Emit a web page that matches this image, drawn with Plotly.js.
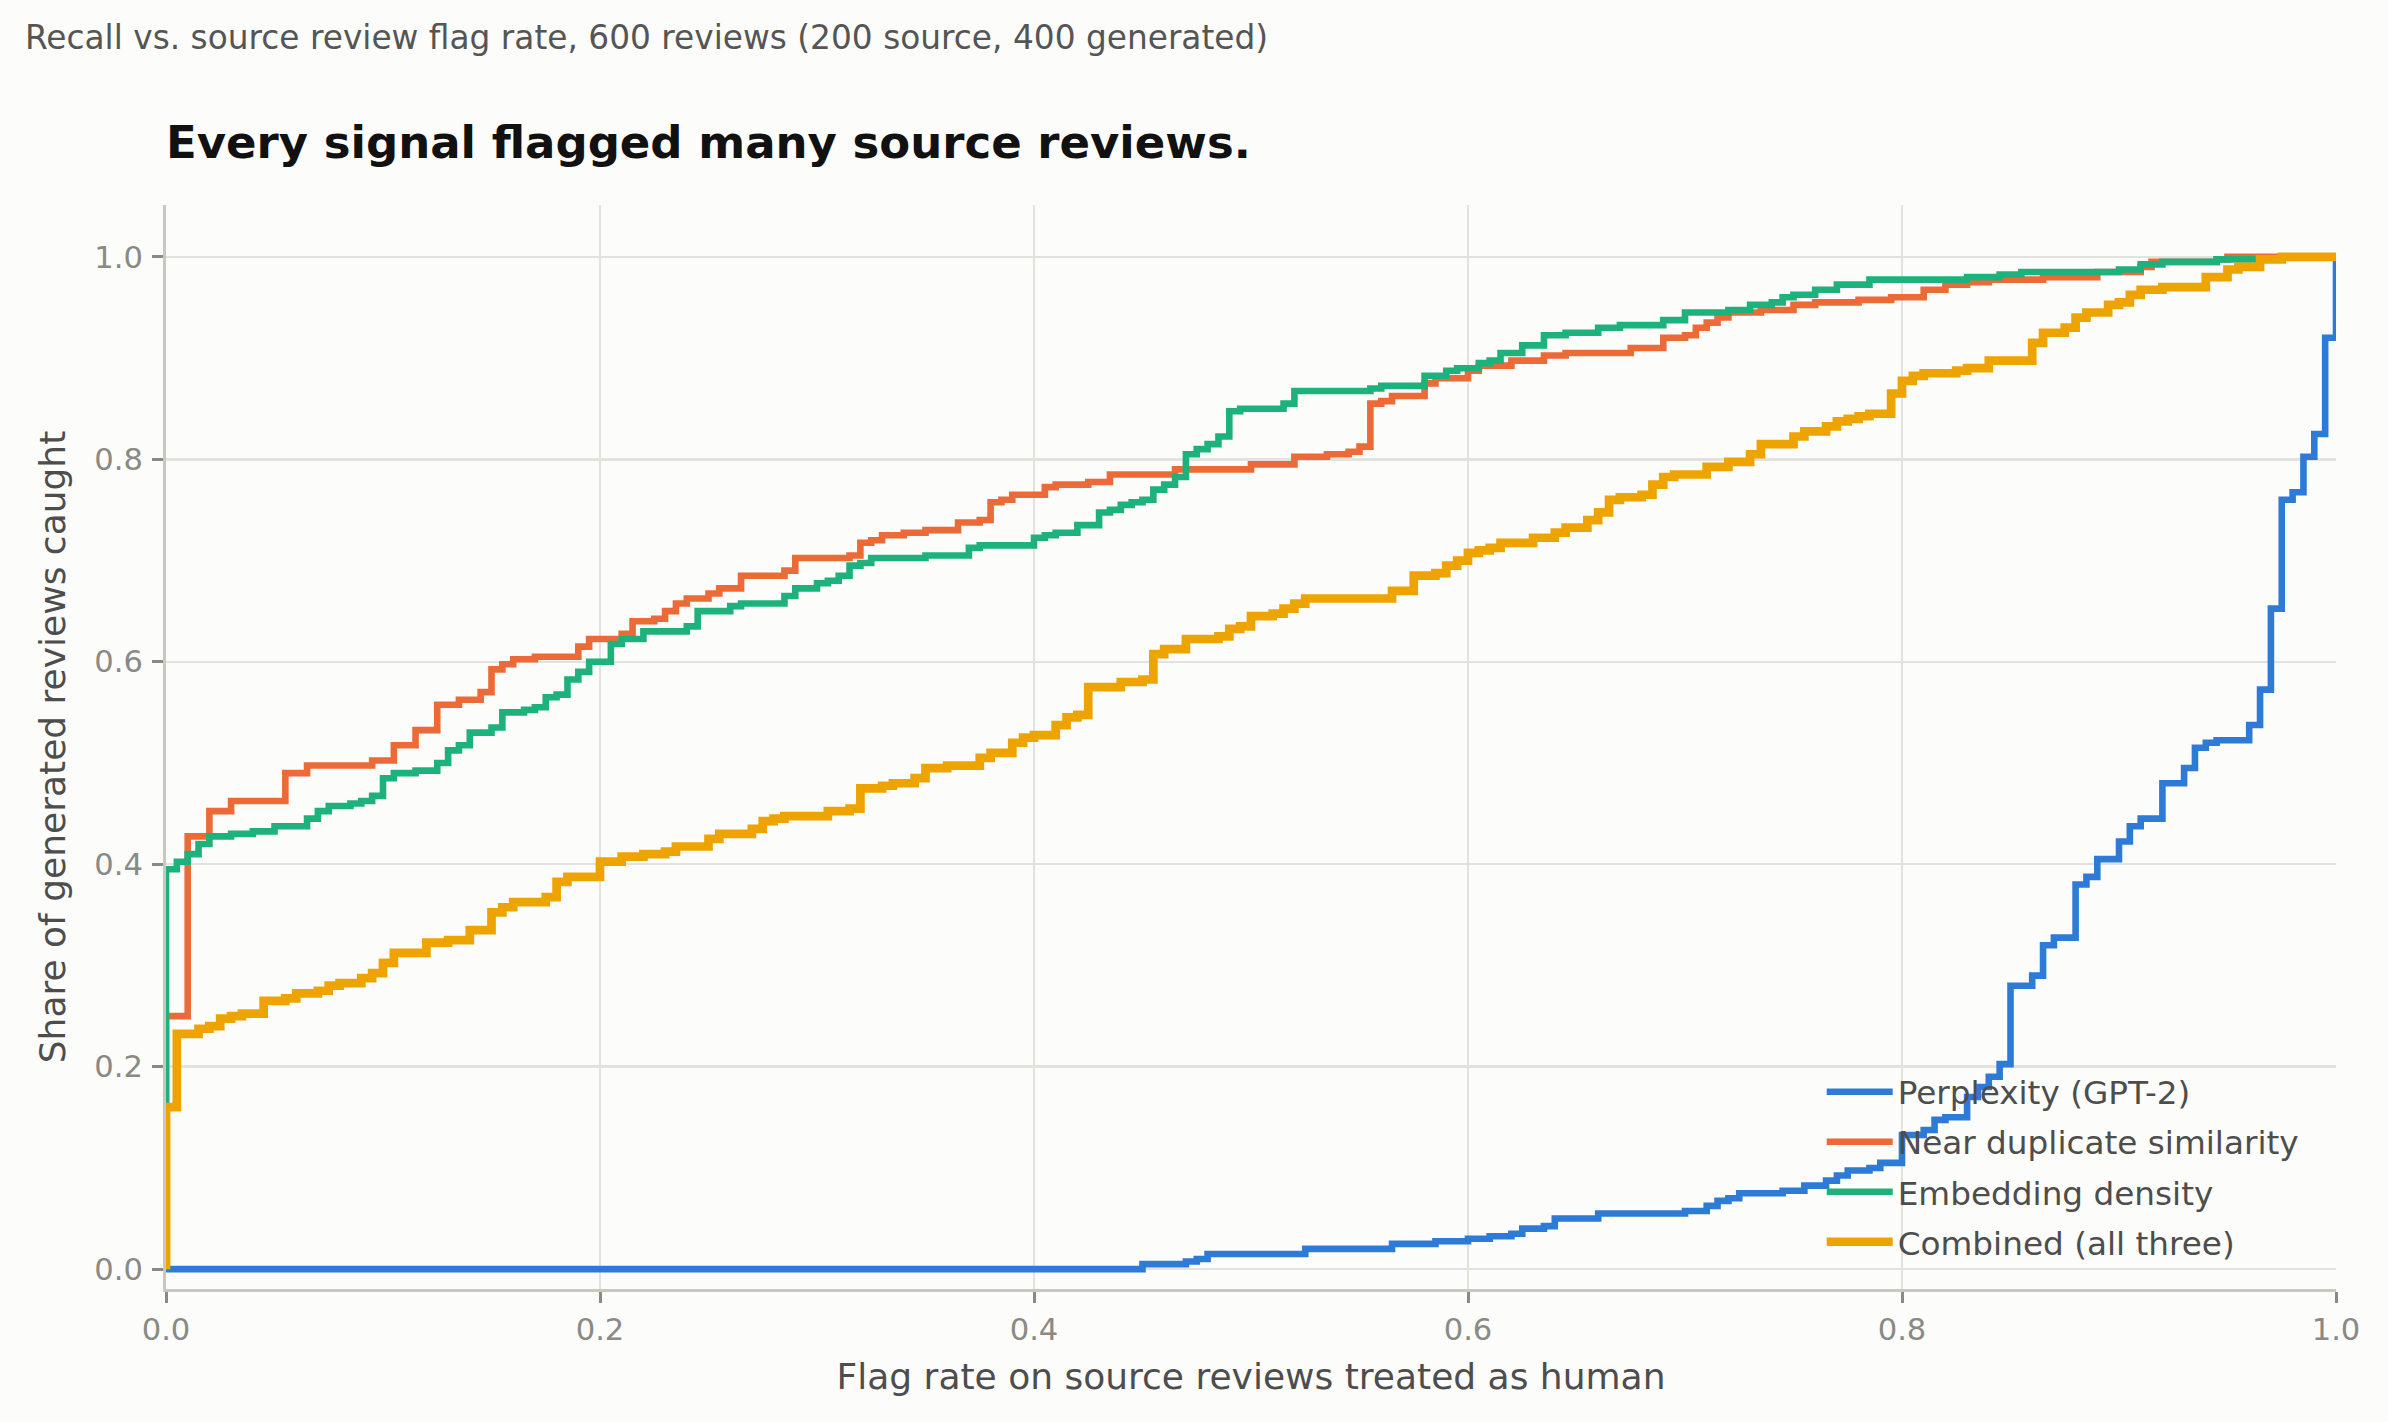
<!DOCTYPE html>
<html>
<head>
<meta charset="utf-8">
<script src="https://cdn.plot.ly/plotly-3.0.1.min.js"></script>
<style>html,body{margin:0;padding:0;background:#fcfcfa;}</style>
</head>
<body>
<div id="chart" style="width:2388px;height:1422px;"></div>
<script>
// ---- data ----
const seriesNames = ["Perplexity (GPT-2)", "Near duplicate similarity", "Embedding density", "Combined (all three)"];
const seriesColors = ["#2d7ad7", "#ec6a38", "#1db27c", "#eda300"];

const perplexityX = [0,0.45,0.47,0.475,0.48,0.525,0.565,0.585,0.6,0.61,0.62,0.625,0.635,0.64,0.66,0.70,0.71,0.715,0.72,0.725,0.745,0.755,0.765,0.77,0.775,0.785,0.79,0.80,0.81,0.815,0.82,0.83,0.835,0.84,0.845,0.85,0.86,0.865,0.87,0.88,0.885,0.89,0.90,0.905,0.91,0.92,0.93,0.935,0.94,0.945,0.96,0.965,0.97,0.975,0.98,0.985,0.99,0.995,1.0];
const perplexityY = [0,0.005,0.0075,0.01,0.015,0.02,0.025,0.0275,0.03,0.0325,0.035,0.04,0.0425,0.05,0.055,0.0575,0.0625,0.0675,0.07,0.075,0.0775,0.0825,0.0875,0.0925,0.0975,0.1,0.105,0.1325,0.1375,0.1475,0.15,0.17,0.18,0.19,0.2025,0.28,0.29,0.32,0.3275,0.38,0.3875,0.405,0.4225,0.4375,0.445,0.48,0.495,0.515,0.52,0.5225,0.5375,0.5725,0.6525,0.76,0.7675,0.8025,0.825,0.92,1.0];

const nearDupX = [0,0,0.01,0.02,0.03,0.055,0.065,0.095,0.105,0.115,0.125,0.135,0.145,0.15,0.155,0.16,0.17,0.19,0.195,0.21,0.215,0.225,0.23,0.235,0.24,0.25,0.255,0.265,0.285,0.29,0.315,0.32,0.325,0.33,0.34,0.35,0.365,0.375,0.38,0.385,0.39,0.405,0.41,0.425,0.435,0.465,0.5,0.52,0.535,0.545,0.55,0.555,0.56,0.565,0.58,0.585,0.6,0.605,0.62,0.635,0.645,0.675,0.69,0.7,0.705,0.71,0.715,0.72,0.735,0.75,0.76,0.78,0.795,0.81,0.82,0.83,0.84,0.865,0.89,0.91,0.915,0.945,0.95,1.0];
const nearDupY = [0,0.25,0.4275,0.4525,0.4625,0.49,0.4975,0.5025,0.5175,0.5325,0.5575,0.5625,0.57,0.5925,0.5975,0.6025,0.605,0.615,0.6225,0.6275,0.64,0.6425,0.65,0.6575,0.6625,0.6675,0.6725,0.685,0.69,0.7025,0.705,0.7175,0.72,0.725,0.7275,0.73,0.7375,0.74,0.7575,0.76,0.765,0.7725,0.775,0.7775,0.785,0.79,0.795,0.8025,0.805,0.8075,0.8125,0.855,0.8575,0.8625,0.875,0.88,0.8875,0.8925,0.8975,0.9025,0.905,0.91,0.92,0.9225,0.93,0.935,0.94,0.945,0.9475,0.9525,0.955,0.9575,0.96,0.9675,0.9725,0.975,0.9775,0.98,0.985,0.99,0.995,0.9975,1.0,1.0];

const embeddingX = [0,0,0.005,0.01,0.015,0.02,0.03,0.04,0.05,0.065,0.07,0.075,0.085,0.09,0.095,0.1,0.105,0.115,0.125,0.13,0.135,0.14,0.15,0.155,0.165,0.17,0.175,0.18,0.185,0.19,0.195,0.205,0.21,0.22,0.24,0.245,0.26,0.265,0.285,0.29,0.3,0.305,0.31,0.315,0.32,0.325,0.35,0.37,0.375,0.4,0.405,0.41,0.42,0.43,0.435,0.44,0.445,0.45,0.455,0.46,0.465,0.47,0.475,0.48,0.485,0.49,0.495,0.515,0.52,0.555,0.56,0.58,0.59,0.595,0.605,0.61,0.615,0.625,0.635,0.645,0.66,0.67,0.69,0.7,0.72,0.73,0.74,0.745,0.75,0.76,0.77,0.785,0.83,0.845,0.855,0.9,0.91,0.92,0.945,0.975,1.0];
const embeddingY = [0,0.395,0.4025,0.41,0.42,0.4275,0.43,0.4325,0.4375,0.445,0.4525,0.4575,0.46,0.4625,0.4675,0.485,0.49,0.4925,0.5,0.5125,0.5175,0.53,0.535,0.55,0.5525,0.555,0.565,0.5675,0.5825,0.59,0.6,0.6175,0.6225,0.63,0.635,0.65,0.655,0.6575,0.665,0.6725,0.6775,0.68,0.685,0.695,0.6975,0.7025,0.705,0.7125,0.715,0.7225,0.725,0.7275,0.735,0.7475,0.75,0.755,0.7575,0.76,0.77,0.775,0.7825,0.805,0.81,0.815,0.8225,0.8475,0.85,0.855,0.8675,0.87,0.8725,0.8825,0.8875,0.89,0.895,0.8975,0.905,0.9125,0.9225,0.925,0.93,0.9325,0.9375,0.945,0.9475,0.9525,0.955,0.96,0.9625,0.9675,0.9725,0.9775,0.98,0.9825,0.985,0.9875,0.9925,0.995,0.9975,1.0,1.0];

const combinedX = [0,0,0.005,0.015,0.02,0.025,0.03,0.035,0.045,0.055,0.06,0.07,0.075,0.08,0.09,0.095,0.1,0.105,0.12,0.13,0.14,0.15,0.155,0.16,0.175,0.18,0.185,0.2,0.21,0.22,0.23,0.235,0.25,0.255,0.27,0.275,0.28,0.285,0.305,0.315,0.32,0.33,0.335,0.345,0.35,0.36,0.375,0.38,0.39,0.395,0.4,0.41,0.415,0.42,0.425,0.44,0.45,0.455,0.46,0.47,0.485,0.49,0.495,0.5,0.51,0.515,0.52,0.525,0.565,0.575,0.585,0.59,0.595,0.6,0.605,0.61,0.615,0.63,0.64,0.645,0.655,0.66,0.665,0.67,0.68,0.685,0.69,0.695,0.71,0.72,0.73,0.735,0.75,0.755,0.765,0.77,0.775,0.78,0.785,0.795,0.8,0.805,0.81,0.825,0.83,0.84,0.86,0.865,0.875,0.88,0.885,0.895,0.9,0.905,0.91,0.92,0.94,0.95,0.955,0.965,0.975,1.0];
const combinedY = [0,0.16,0.2325,0.2375,0.24,0.2475,0.25,0.2525,0.265,0.2675,0.2725,0.275,0.28,0.2825,0.2875,0.2925,0.3025,0.3125,0.3225,0.325,0.335,0.3525,0.3575,0.3625,0.3675,0.3825,0.3875,0.4025,0.4075,0.41,0.4125,0.4175,0.425,0.43,0.435,0.4425,0.445,0.4475,0.4525,0.455,0.475,0.4775,0.48,0.485,0.495,0.4975,0.505,0.51,0.52,0.525,0.5275,0.5375,0.545,0.5475,0.575,0.58,0.5825,0.6075,0.6125,0.6225,0.625,0.6325,0.635,0.645,0.6475,0.6525,0.6575,0.6625,0.67,0.685,0.6875,0.695,0.7,0.7075,0.71,0.7125,0.7175,0.7225,0.7275,0.7325,0.74,0.7475,0.76,0.7625,0.765,0.775,0.7825,0.785,0.7925,0.7975,0.805,0.815,0.8225,0.8275,0.8325,0.8375,0.84,0.8425,0.845,0.865,0.8775,0.8825,0.885,0.8875,0.89,0.8975,0.915,0.925,0.93,0.94,0.945,0.9525,0.955,0.9625,0.9675,0.97,0.98,0.9875,0.99,0.9975,1.0,1.0];

const tickValues = [0, 0.2, 0.4, 0.6, 0.8, 1.0];
const tickLabels = ["0.0", "0.2", "0.4", "0.6", "0.8", "1.0"];

const chartTitle = "Every signal flagged many source reviews.";
const chartSubtitle = "Recall vs. source review flag rate, 600 reviews (200 source, 400 generated)";
const xTitle = "Flag rate on source reviews treated as human";
const yTitle = "Share of generated reviews caught";

// ---- traces ----
const xs = [perplexityX, nearDupX, embeddingX, combinedX];
const ys = [perplexityY, nearDupY, embeddingY, combinedY];
const widths = [6.6, 6.6, 6.6, 8.7];

const traces = seriesNames.map((name, i) => ({
  type: "scatter",
  mode: "lines",
  name: name,
  legendgroup: "g" + i,
  x: xs[i],
  y: ys[i],
  line: {color: seriesColors[i], width: widths[i], shape: "hv"},
  hoverinfo: "skip"
}));

const gridColor = "#e3e3dd";
const spineColor = "#c8c8be";
const tickColor = "#8a8a85";

const axisCommon = {
  tickvals: tickValues,
  ticktext: tickLabels,
  ticks: "outside",
  ticklen: 11,
  tickwidth: 3,
  tickcolor: tickColor,
  tickfont: {family: "DejaVu Sans", size: 30.6, color: tickColor},
  showline: true,
  linecolor: spineColor,
  linewidth: 3,
  showgrid: true,
  gridcolor: gridColor,
  gridwidth: 2.5,
  zeroline: false,
  automargin: false,
  fixedrange: true
};

const layout = {
  width: 2388,
  height: 1422,
  margin: {l: 166, r: 52, t: 205, b: 133, pad: 0},
  paper_bgcolor: "#fcfcfa",
  plot_bgcolor: "#fcfcfa",
  font: {family: "DejaVu Sans", color: "#4d4d4d"},
  title: {
    text: chartTitle,
    font: {family: "DejaVu Sans", size: 45, color: "#111111", weight: 700},
    xref: "paper", x: 0, xanchor: "left",
    yref: "container", y: 1 - 142 / 1422, yanchor: "middle",
    pad: {t: 0, b: 0, l: 0, r: 0}
  },
  xaxis: Object.assign({}, axisCommon, {
    range: [0, 1],
    title: {text: xTitle, font: {family: "DejaVu Sans", size: 36, color: "#4d4d4d"}, standoff: 19}
  }),
  yaxis: Object.assign({}, axisCommon, {
    range: [-0.0196, 1.0512],
    ticklabelstandoff: 3,
    title: {text: yTitle, font: {family: "DejaVu Sans", size: 36, color: "#4d4d4d"}, standoff: 18}
  }),
  showlegend: true,
  legend: {
    x: (1822 - 166.3) / 2170, xanchor: "left",
    y: 0.2076, yanchor: "top",
    bgcolor: "rgba(0,0,0,0)",
    borderwidth: 0,
    font: {family: "DejaVu Sans", size: 32.7, color: "#4d4d4d"},
    itemwidth: 66,
    tracegroupgap: 4.5,
    traceorder: "grouped"
  },
  annotations: [{
    text: chartSubtitle,
    xref: "paper", yref: "paper",
    x: (23 - 166.3) / 2170, y: (1289 - 38) / 1084,
    xanchor: "left", yanchor: "middle",
    showarrow: false,
    font: {family: "DejaVu Sans", size: 32.8, color: "#555555"}
  }]
};

Plotly.newPlot("chart", traces, layout, {displayModeBar: false, staticPlot: true});
</script>
</body>
</html>
